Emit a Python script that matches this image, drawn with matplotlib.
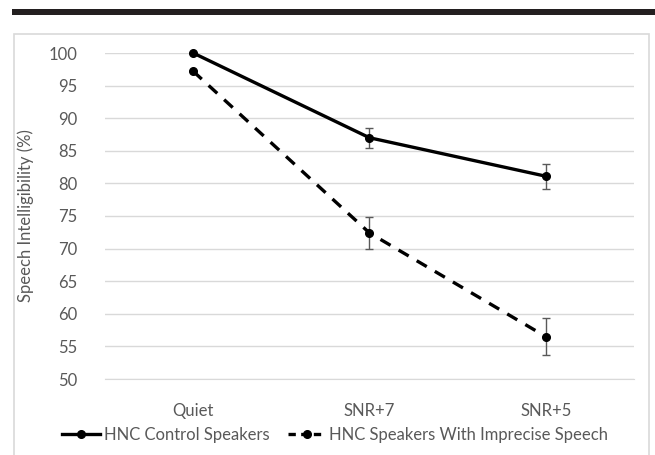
import matplotlib.pyplot as plt
from matplotlib.patches import Rectangle
from matplotlib.lines import Line2D

# data
conditions = ['Quiet', 'SNR+7', 'SNR+5']
control = [100.0, 87.0, 81.1]
control_err = [0.0, 1.5, 1.9]
imprecise = [97.2, 72.4, 56.5]
imprecise_err = [0.0, 2.5, 2.8]
y_ticks = [50, 55, 60, 65, 70, 75, 80, 85, 90, 95, 100]
labels = ['HNC Control Speakers', 'HNC Speakers With Imprecise Speech']

plt.rcParams['font.family'] = ['Lato', 'DejaVu Sans']

fig = plt.figure(figsize=(6.55, 4.55), dpi=100)

# black bar on top and the light chart border (behind the axes)
fig.patches.append(Rectangle((12 / 655, 1 - 15 / 455), 643 / 655, 6 / 455,
                             transform=fig.transFigure, facecolor='#231f20',
                             edgecolor='none', zorder=-2))
fig.patches.append(Rectangle((14 / 655, -0.05), 635 / 655, 1.05 - 34 / 455,
                             transform=fig.transFigure, facecolor='white',
                             edgecolor='#d9d9d9', linewidth=1.2, zorder=-2))

ax = fig.add_axes([105 / 655, 1 - 379 / 455, 529 / 655, 326 / 455])
ax.patch.set_alpha(0)
x = list(range(len(conditions)))

dash = (0, (3.5, 2.8))
for vals, errs, ls in [(control, control_err, '-'), (imprecise, imprecise_err, dash)]:
    ax.errorbar(x, vals, yerr=errs, color='black', linewidth=2.4, linestyle=ls,
                marker='o', markersize=5.5, ecolor='#595959', elinewidth=1,
                capsize=3, capthick=1, zorder=3, clip_on=False)

ax.set_xlim(-0.5, 2.5)
ax.set_ylim(50, 100)
ax.set_yticks(y_ticks)
ax.set_xticks(x)
ax.set_xticklabels(conditions)
ax.grid(axis='y', color='#d9d9d9', linewidth=1)
ax.set_axisbelow(True)
for side in ['top', 'right', 'left']:
    ax.spines[side].set_visible(False)
ax.spines['bottom'].set_color('#d9d9d9')
ax.tick_params(axis='both', length=0, labelsize=12, colors='#595959')
ax.tick_params(axis='y', pad=20)
ax.tick_params(axis='x', pad=17)
ax.set_ylabel('Speech Intelligibility (%)', fontsize=12, color='#595959',
              labelpad=10)

handles = [Line2D([], [], color='black', linewidth=2.4, marker='o', markersize=5.5),
           Line2D([], [], color='black', linewidth=2.4, linestyle=(0, (2.2, 1.6)),
                  marker='o', markersize=5.5)]
leg = ax.legend(handles, labels, loc='center', bbox_to_anchor=(0.435, -0.172),
                ncol=2, frameon=False, fontsize=12, handlelength=2.3,
                handletextpad=0.2, columnspacing=1.1)
for t in leg.get_texts():
    t.set_color('#595959')

fig.savefig('out.png', dpi=100)
